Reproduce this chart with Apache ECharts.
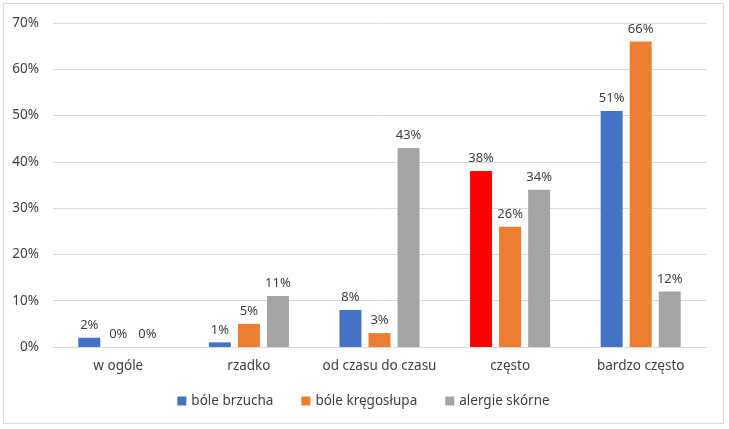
<!DOCTYPE html>
<html><head><meta charset="utf-8">
<script src="https://cdn.jsdelivr.net/npm/echarts@6/dist/echarts.min.js"></script>
<style>html,body{margin:0;padding:0;background:#fff;}#c{position:absolute;left:3px;top:3px;width:721px;height:421px;border:1px solid #d9d9d9;box-sizing:border-box;}</style>
</head><body><div id="c"></div>
<script>
const categories = ["w ogóle", "rzadko", "od czasu do czasu", "często", "bardzo często"];
const seriesNames = ["bóle brzucha", "bóle kręgosłupa", "alergie skórne"];
const brzucha = [2, 1, 8, 38, 51];
const kregoslupa = [0, 5, 3, 26, 66];
const alergie = [0, 11, 43, 34, 12];
const yTicks = [0, 10, 20, 30, 40, 50, 60, 70];
const colors = ["#4472C4", "#ED7D31", "#A5A5A5"];
const font = "Noto Sans, Liberation Sans, sans-serif";
const chart = echarts.init(document.getElementById('c'));
const lbl = {show:true, position:'top', formatter:p=>(typeof p.value==='object'?p.value.value:p.value)+'%', color:'#404040', fontSize:13, fontFamily:font, distance:6};
const mk = (name, data, color) => ({name, type:'bar', data, barWidth:22, barGap:'32%', itemStyle:{color}, label:lbl});
const s0 = mk(seriesNames[0], brzucha.map((v,i)=> i===3 ? {value:v, itemStyle:{color:'#FF0000'}} : v), colors[0]);
chart.setOption({
  animation:false,
  grid:{left:49, right:17, top:19, bottom:76},
  legend:{bottom:10, left:'center', itemWidth:9, itemHeight:9, itemGap:28, icon:'rect',
    textStyle:{color:'#404040', fontSize:13.5, fontFamily:font}, data:seriesNames},
  xAxis:{type:'category', data:categories, axisTick:{show:false},
    axisLine:{lineStyle:{color:'#d9d9d9'}},
    axisLabel:{interval:0, color:'#404040', fontSize:13.5, fontFamily:font, margin:12}},
  yAxis:{type:'value', min:yTicks[0], max:yTicks[yTicks.length-1], interval:10,
    axisLabel:{formatter:'{value}%', color:'#404040', fontSize:13.5, fontFamily:font, margin:14},
    splitLine:{lineStyle:{color:'#d9d9d9'}}, axisLine:{show:false}, axisTick:{show:false}},
  series:[s0, mk(seriesNames[1], kregoslupa, colors[1]), mk(seriesNames[2], alergie, colors[2])]
});
</script></body></html>
